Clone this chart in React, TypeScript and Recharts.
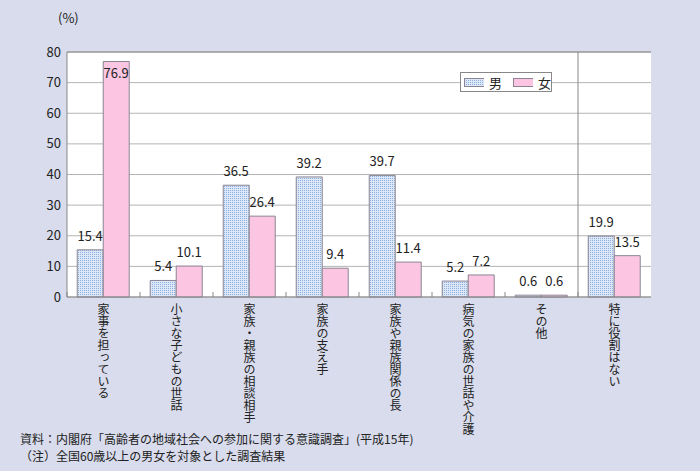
import {Bar, BarChart, CartesianGrid, LabelList, Legend, ReferenceLine, XAxis, YAxis} from "recharts";

const categories = [
    "家事を担っている",
    "小さな子どもの世話",
    "家族・親族の相談相手",
    "家族の支え手",
    "家族や親族関係の長",
    "病気の家族の世話や介護",
    "その他",
    "特に役割はない",
];
const maleValues = [15.4, 5.4, 36.5, 39.2, 39.7, 5.2, 0.6, 19.9];
const femaleValues = [76.9, 10.1, 26.4, 9.4, 11.4, 7.2, 0.6, 13.5];
const yTicks = [0, 10, 20, 30, 40, 50, 60, 70, 80];

const data = categories.map((name, i) => ({name, male: maleValues[i], female: femaleValues[i]}));

const FONT = '"Noto Sans CJK JP", "Noto Sans", sans-serif';
const BG = "#d8dcec";
const AXIS = "#888888";
const PINK = "#fcc6e2";
const BAR_STROKE = "#8a8494";
const PLOT_LEFT = 67;
const PLOT_RIGHT = 651;
const BAND = (PLOT_RIGHT - PLOT_LEFT) / categories.length;

// category labels written top to bottom, like the vertical text in the original
const VerticalTick = (props: any) => {
    const {x, y, payload} = props;
    const edge = x - BAND / 2;
    return (
        <g>
            <line x1={edge} x2={edge} y1={y} y2={y - 5} stroke={AXIS}/>
            <text x={x} y={y + 6} fontSize={12} fill="#222"
                  style={{fontFamily: FONT, writingMode: "vertical-rl"}}>{payload.value}</text>
        </g>
    );
};

const ValueLabel = (props: any) => {
    const {x, y, width, value} = props;
    const inside = value > 70;
    return (
        <text x={x + width / 2} y={inside ? y + 17 : y - 9} textAnchor="middle" fontSize={13}
              fill="#222" style={{fontFamily: FONT}}>
            {Number(value).toFixed(1)}
        </text>
    );
};

const LegendBox = () => (
    <div style={{
        width: 90, height: 18, border: "1px solid #888", background: "#fff",
        display: "flex", alignItems: "center", fontSize: 13, fontFamily: FONT, color: "#222",
    }}>
        <svg width={22} height={9} style={{marginLeft: 3}}>
            <defs>
                <pattern id="dotsLegend" width={2} height={2} patternUnits="userSpaceOnUse">
                    <rect width={2} height={2} fill="#dce8f8"/>
                    <rect width={1} height={1} fill="#8fb0dc"/>
                </pattern>
            </defs>
            <rect x={0.5} y={0.5} width={21} height={8} fill="url(#dotsLegend)" stroke={BAR_STROKE}/>
        </svg>
        <span style={{marginLeft: 5}}>男</span>
        <svg width={22} height={9} style={{marginLeft: 11}}>
            <rect x={0.5} y={0.5} width={21} height={8} fill={PINK} stroke={BAR_STROKE}/>
        </svg>
        <span style={{marginLeft: 5}}>女</span>
    </div>
);

export default function App() {
    return (
        <div style={{position: "absolute", left: 0, top: 0, width: 700, height: 471, background: BG, fontFamily: FONT}}>
            <div style={{position: "absolute", left: 58, top: 8, fontSize: 13, color: "#222"}}>(%)</div>
            <BarChart width={700} height={471} data={data}
                      margin={{top: 32, right: 49, left: 27, bottom: 34}}
                      barCategoryGap="14%" barGap={0}>
                <defs>
                    <pattern id="dots" width={2} height={2} patternUnits="userSpaceOnUse">
                        <rect width={2} height={2} fill="#dce8f8"/>
                        <rect width={1} height={1} fill="#8fb0dc"/>
                    </pattern>
                </defs>
                <CartesianGrid vertical={false} stroke="#b4b4b4" fill="#fff"/>
                <XAxis dataKey="name" height={140} tickSize={0} tickMargin={0} interval={0}
                       axisLine={{stroke: AXIS}} tickLine={false} tick={<VerticalTick/>}/>
                <YAxis domain={[0, 80]} ticks={yTicks} width={40} tickSize={0} tickMargin={6}
                       axisLine={{stroke: AXIS}} tickLine={false}
                       tick={{fontSize: 13, fill: "#222", fontFamily: FONT}}/>
                <YAxis yAxisId="right" orientation="right" width={0} tick={false} tickLine={false}
                       axisLine={{stroke: AXIS}}/>
                <ReferenceLine y={80} stroke={AXIS}/>
                <ReferenceLine x="特に役割はない" position="start" stroke={AXIS}/>
                <Legend verticalAlign="top" align="left" content={<LegendBox/>}
                        wrapperStyle={{position: "absolute", top: 72, left: 460, width: 92}}/>
                <Bar dataKey="male" name="男" fill="url(#dots)" stroke={BAR_STROKE} isAnimationActive={false}>
                    <LabelList dataKey="male" content={<ValueLabel/>}/>
                </Bar>
                <Bar dataKey="female" name="女" fill={PINK} stroke={BAR_STROKE} isAnimationActive={false}>
                    <LabelList dataKey="female" content={<ValueLabel/>}/>
                </Bar>
            </BarChart>
            <div style={{position: "absolute", left: 20, top: 430, fontSize: 12, color: "#222", lineHeight: "17px"}}>
                <div>資料：内閣府「高齢者の地域社会への参加に関する意識調査」(平成15年)</div>
                <div>（注）全国60歳以上の男女を対象とした調査結果</div>
            </div>
        </div>
    );
}
